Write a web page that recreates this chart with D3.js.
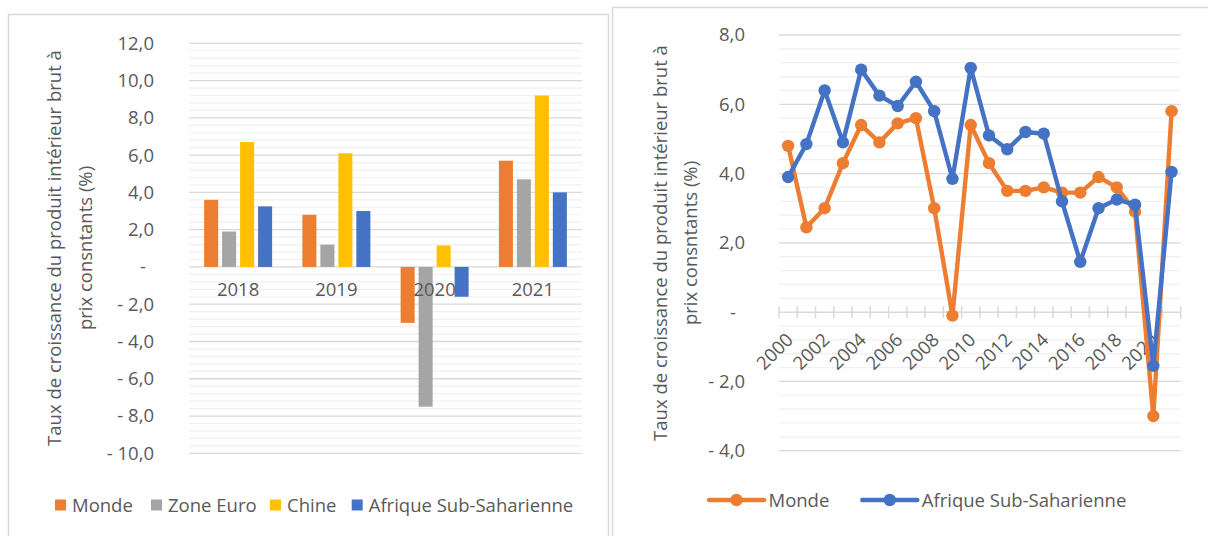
<!DOCTYPE html>
<html><head><meta charset="utf-8">
<script src="https://cdn.jsdelivr.net/npm/d3@7"></script>
<style>
body{margin:0;background:#fff}
svg{display:block}
text{font-family:'Open Sans',sans-serif;fill:#595959}
</style>
</head><body><svg id="c" width="1208" height="536"></svg>
<script>
// ---------- data: left bar chart ----------
const barCategories = ["2018", "2019", "2020", "2021"];
const barSeriesNames = ["Monde", "Zone Euro", "Chine", "Afrique Sub-Saharienne"];
const barMonde = [3.6, 2.8, -3.0, 5.7];
const barZoneEuro = [1.9, 1.2, -7.5, 4.7];
const barChine = [6.7, 6.1, 1.15, 9.2];
const barAfrique = [3.25, 3.0, -1.6, 4.0];
const barTicks = [12, 10, 8, 6, 4, 2, 0, -2, -4, -6, -8, -10];
const seriesColors = ["#ED7D31", "#A5A5A5", "#FFC000", "#4472C4"];

// ---------- data: right line chart ----------
const lineYears = ["2000","2001","2002","2003","2004","2005","2006","2007","2008","2009","2010",
                   "2011","2012","2013","2014","2015","2016","2017","2018","2019","2020","2021"];
const lineYearLabels = ["2000","2002","2004","2006","2008","2010","2012","2014","2016","2018","2020"];
const lineMonde = [4.8, 2.45, 3.0, 4.3, 5.4, 4.9, 5.45, 5.6, 3.0, -0.1, 5.4,
                   4.3, 3.5, 3.5, 3.6, 3.45, 3.45, 3.9, 3.6, 2.9, -3.0, 5.8];
const lineAfrique = [3.9, 4.85, 6.4, 4.9, 7.0, 6.25, 5.95, 6.65, 5.8, 3.85, 7.05,
                     5.1, 4.7, 5.2, 5.15, 3.2, 1.45, 3.0, 3.25, 3.1, -1.55, 4.05];
const lineSeriesNames = ["Monde", "Afrique Sub-Saharienne"];
const lineTicks = [8, 6, 4, 2, 0, -2, -4];

const yTitle1 = "Taux de croissance du produit intérieur brut à";
const yTitle2 = "prix consntants (%)";

const FS = 18.5;
const fmt = v => v === 0 ? "-" : (v < 0 ? "- " : "") + d3.format(".1f")(Math.abs(v)).replace(".", ",");

const svg = d3.select("#c");

// frames
svg.append("path").attr("d", "M8.5,536 V14.5 H608.5 V536").attr("fill", "none")
  .attr("stroke", "#d9d9d9").attr("stroke-width", 1.5);
svg.append("path").attr("d", "M612.5,536 V7.5 H1208").attr("fill", "none")
  .attr("stroke", "#d9d9d9").attr("stroke-width", 1.5);

function minorValues(lo, hi, step, majors) {
  const out = [];
  const n = Math.round((hi - lo) / step);
  for (let i = 0; i <= n; i++) {
    const v = +(lo + i * step).toFixed(4);
    if (!majors.some(m => Math.abs(m - v) < 1e-6)) out.push(v);
  }
  return out;
}

// ================= LEFT: grouped bars =================
{
  const x0 = 189, x1 = 582;
  const y = d3.scaleLinear().domain([-10, 12]).range([453.3, 43.3]);
  const xb = d3.scaleBand().domain(barCategories).range([x0, x1]);
  const inner = d3.scaleBand().domain(barSeriesNames)
    .range([(xb.bandwidth() - 68) / 2, (xb.bandwidth() + 68) / 2]).paddingInner(0.22);
  const g = svg.append("g");

  g.selectAll(".minor").data(minorValues(-10, 12, 0.4, barTicks)).join("line")
    .attr("x1", x0).attr("x2", x1).attr("y1", d => y(d)).attr("y2", d => y(d))
    .attr("stroke", "#f0f0f0").attr("stroke-width", 1.2);
  g.selectAll(".major").data(barTicks).join("line")
    .attr("x1", x0).attr("x2", x1).attr("y1", d => y(d)).attr("y2", d => y(d))
    .attr("stroke", "#d9d9d9").attr("stroke-width", 1.3);

  const series = [barMonde, barZoneEuro, barChine, barAfrique];
  series.forEach((vals, si) => {
    g.append("g").selectAll("rect").data(vals).join("rect")
      .attr("x", (d, i) => xb(barCategories[i]) + inner(barSeriesNames[si]))
      .attr("width", inner.bandwidth())
      .attr("y", d => y(Math.max(0, d)))
      .attr("height", d => Math.abs(y(d) - y(0)))
      .attr("fill", seriesColors[si]);
  });

  // y axis labels
  const ax = g.append("g").attr("transform", "translate(154,0)")
    .call(d3.axisLeft(y).tickValues(barTicks).tickFormat(fmt).tickSize(0).tickPadding(0));
  ax.select(".domain").remove();
  ax.selectAll("text").attr("font-size", FS).attr("font-family", "'Open Sans',sans-serif")
    .attr("fill", "#595959").attr("dx", d => d === 0 ? -8 : 0);

  // category labels
  const cx = g.append("g").attr("transform", "translate(0,283)")
    .call(d3.axisBottom(xb).tickSize(0).tickPadding(0));
  cx.select(".domain").remove();
  cx.selectAll("text").attr("font-size", FS).attr("font-family", "'Open Sans',sans-serif")
    .attr("fill", "#595959");

  // y title
  const t = g.append("text").attr("transform", "translate(0,248) rotate(-90)")
    .attr("text-anchor", "middle").attr("font-size", FS);
  t.append("tspan").attr("x", 0).attr("y", 61).text(yTitle1);
  t.append("tspan").attr("x", 0).attr("y", 92).text(yTitle2);

  // legend
  const legX = [55, 151, 270, 351.7];
  const lg = g.append("g");
  barSeriesNames.forEach((n, i) => {
    lg.append("rect").attr("x", legX[i]).attr("y", 499.5).attr("width", 11).attr("height", 11)
      .attr("fill", seriesColors[i]);
    lg.append("text").attr("x", legX[i] + 17).attr("y", 511.5).attr("font-size", FS).text(n);
  });
}

// ================= RIGHT: lines =================
{
  const x0 = 779, x1 = 1180.7;
  const y = d3.scaleLinear().domain([-4, 8]).range([450.7, 35]);
  const xb = d3.scaleBand().domain(lineYears).range([x0, x1]);
  const xc = d => xb(d) + xb.bandwidth() / 2;
  const g = svg.append("g");

  g.selectAll(".minor").data(minorValues(-4, 8, 0.4, lineTicks)).join("line")
    .attr("x1", x0).attr("x2", x1).attr("y1", d => y(d)).attr("y2", d => y(d))
    .attr("stroke", "#f0f0f0").attr("stroke-width", 1.2);
  g.selectAll(".major").data(lineTicks.filter(d => d !== 0)).join("line")
    .attr("x1", x0).attr("x2", x1).attr("y1", d => y(d)).attr("y2", d => y(d))
    .attr("stroke", "#d9d9d9").attr("stroke-width", 1.3);

  // x axis line with ticks at band boundaries
  g.append("line").attr("x1", x0).attr("x2", x1).attr("y1", y(0)).attr("y2", y(0))
    .attr("stroke", "#d9d9d9").attr("stroke-width", 1.5);
  const bounds = lineYears.map(d => xb(d)).concat([x1]);
  g.selectAll(".tk").data(bounds).join("line")
    .attr("x1", d => d).attr("x2", d => d).attr("y1", y(0) - 6).attr("y2", y(0) + 6)
    .attr("stroke", "#d9d9d9").attr("stroke-width", 1.5);

  // x labels rotated
  g.selectAll(".xl").data(lineYearLabels).join("text")
    .attr("transform", d => `translate(${xc(d) + 6},${y(0) + 29}) rotate(-45)`)
    .attr("text-anchor", "end").attr("font-size", FS).text(d => d);

  // y axis labels
  const ax = g.append("g").attr("transform", "translate(745,0)")
    .call(d3.axisLeft(y).tickValues(lineTicks).tickFormat(fmt).tickSize(0).tickPadding(0));
  ax.select(".domain").remove();
  ax.selectAll("text").attr("font-size", FS).attr("font-family", "'Open Sans',sans-serif")
    .attr("fill", "#595959").attr("dx", d => d === 0 ? -9 : 0);

  // lines
  const line = d3.line().x((d, i) => xc(lineYears[i])).y(d => y(d));
  [[lineMonde, seriesColors[0]], [lineAfrique, seriesColors[3]]].forEach(([vals, col]) => {
    g.append("path").datum(vals).attr("d", line).attr("fill", "none")
      .attr("stroke", col).attr("stroke-width", 4.4).attr("stroke-linejoin", "round");
    g.append("g").selectAll("circle").data(vals).join("circle")
      .attr("cx", (d, i) => xc(lineYears[i])).attr("cy", d => y(d)).attr("r", 6.2).attr("fill", col);
  });

  // y title
  const t = g.append("text").attr("transform", "translate(0,243) rotate(-90)")
    .attr("text-anchor", "middle").attr("font-size", FS);
  t.append("tspan").attr("x", 0).attr("y", 667).text(yTitle1);
  t.append("tspan").attr("x", 0).attr("y", 697).text(yTitle2);

  // legend
  const legs = [[709, lineSeriesNames[0], seriesColors[0]], [862.3, lineSeriesNames[1], seriesColors[3]]];
  legs.forEach(([lx, n, col]) => {
    g.append("line").attr("x1", lx).attr("x2", lx + 55).attr("y1", 500).attr("y2", 500)
      .attr("stroke", col).attr("stroke-width", 4.4).attr("stroke-linecap", "round");
    g.append("circle").attr("cx", lx + 27.5).attr("cy", 500).attr("r", 6.2).attr("fill", col);
    g.append("text").attr("x", lx + 59.5).attr("y", 506.5).attr("font-size", FS).text(n);
  });
}
</script>
</body></html>
